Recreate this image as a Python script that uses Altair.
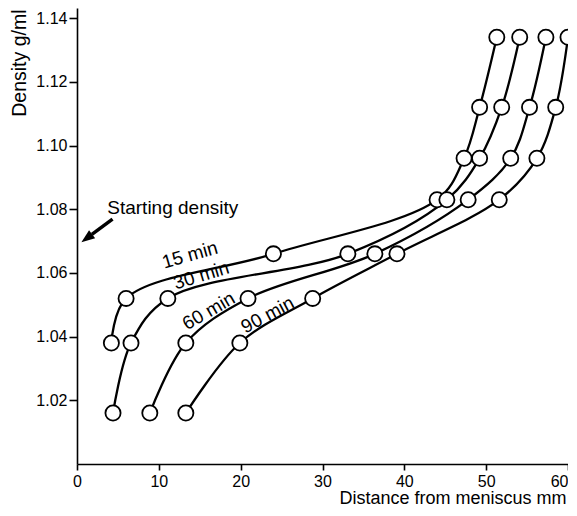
import altair as alt
import pandas as pd

# ---- data ----
density = [1.016, 1.038, 1.052, 1.066, 1.083, 1.096, 1.112, 1.134]
series_names = ["15 min", "30 min", "60 min", "90 min"]
dist_15 = [4.2, 6.0, 24.0, 44.0, 47.3, 49.2, 51.3]          # starts at 1.038
dist_30 = [4.4, 6.6, 11.1, 33.1, 45.2, 49.2, 51.9, 54.1]
dist_60 = [8.9, 13.3, 20.9, 36.4, 47.8, 53.0, 55.3, 57.3]
dist_90 = [13.3, 19.9, 28.8, 39.1, 51.6, 56.2, 58.5, 60.0]

label_x = [13.8, 15.2, 16.1, 23.3]
label_y = [1.0656, 1.0592, 1.0480, 1.0468]
label_angle = [344, 343, 330, 332]

start_text = "Starting density"
start_text_x = [3.7]
start_text_y = [1.0803]
arrow_x = [4.34, 1.82]
arrow_y = [1.0769, 1.0721]
head_x = [1.19]
head_y = [1.0709]

x_ticks = [0, 10, 20, 30, 40, 50, 60]
y_ticks = [1.02, 1.04, 1.06, 1.08, 1.10, 1.12, 1.14]

# ---- build tables ----
rows = []
for name, xs in zip(series_names, [dist_15, dist_30, dist_60, dist_90]):
    ys = density[len(density) - len(xs):]
    for i, (xv, yv) in enumerate(zip(xs, ys)):
        rows.append({"series": name, "idx": i, "dist": xv, "dens": yv})
df = pd.DataFrame(rows)

labels = pd.DataFrame({"text": series_names, "x": label_x, "y": label_y, "angle": label_angle})
start_df = pd.DataFrame({"text": [start_text], "x": start_text_x, "y": start_text_y})
arrow_df = pd.DataFrame({"x": arrow_x, "y": arrow_y, "o": [0, 1]})
head_df = pd.DataFrame({"x": head_x, "y": head_y})

xscale = alt.Scale(domain=[0, 60], nice=False, zero=False)
yscale = alt.Scale(domain=[1.0, 1.1432], nice=False, zero=False)

xaxis = alt.Axis(values=x_ticks, format="d", tickSize=6, labelPadding=3, grid=False,
                 labelAlign=alt.ExprRef(expr="datum.value == 60 ? 'right' : 'center'"),
                 title="Distance from meniscus mm", titleX=489, titleY=34,
                 titleAlign="right", titleBaseline="middle", titleFontSize=18)
yaxis = alt.Axis(values=y_ticks, format=".2f", tickSize=8, labelPadding=2, grid=False,
                 title="Density g/ml", titleAngle=270, titleAlign="right",
                 titleBaseline="middle", titleX=-58, titleY=1, titleFontSize=19.5)

base = alt.Chart(df).encode(
    x=alt.X("dist:Q", scale=xscale, axis=xaxis),
    y=alt.Y("dens:Q", scale=yscale, axis=yaxis),
)

lines = base.mark_line(interpolate="catmull-rom", color="black", strokeWidth=2.3).encode(
    detail="series:N", order="idx:Q"
)
points = base.mark_point(shape="circle", filled=True, fill="white", stroke="black",
                         strokeWidth=1.8, size=230, opacity=1)

label_marks = alt.Chart(labels).mark_text(font="Liberation Sans", fontSize=19, color="black",
                                          align="center", baseline="middle").encode(
    x=alt.X("x:Q", scale=xscale), y=alt.Y("y:Q", scale=yscale),
    text="text:N", angle=alt.Angle("angle:Q", scale=None)
)

start_mark = alt.Chart(start_df).mark_text(font="Liberation Sans", fontSize=19, color="black",
                                           align="left", baseline="middle").encode(
    x=alt.X("x:Q", scale=xscale), y=alt.Y("y:Q", scale=yscale), text="text:N"
)

arrow_line = alt.Chart(arrow_df).mark_line(color="black", strokeWidth=3.5).encode(
    x=alt.X("x:Q", scale=xscale), y=alt.Y("y:Q", scale=yscale), order="o:Q"
)
arrow_head = alt.Chart(head_df).mark_point(shape="M0,-1L0.75,1L-0.75,1Z", filled=True,
                                           color="black", size=180, angle=233, opacity=1).encode(
    x=alt.X("x:Q", scale=xscale), y=alt.Y("y:Q", scale=yscale)
)

chart = alt.layer(lines, points, label_marks, start_mark, arrow_line, arrow_head).properties(
    width=491, height=456,
    autosize=alt.AutoSizeParams(type="none"),
    padding={"left": 69, "top": 0, "right": 0, "bottom": 42},
).configure_view(stroke=None).configure_axis(
    domainColor="black", tickColor="black", labelColor="black", titleColor="black",
    domainWidth=1.6, tickWidth=1.6, labelFont="Liberation Sans", titleFont="Liberation Sans",
    labelFontSize=16, titleFontSize=18, titleFontWeight="normal"
)

chart.save("out.html", embed_options={"renderer": "svg", "actions": False})
